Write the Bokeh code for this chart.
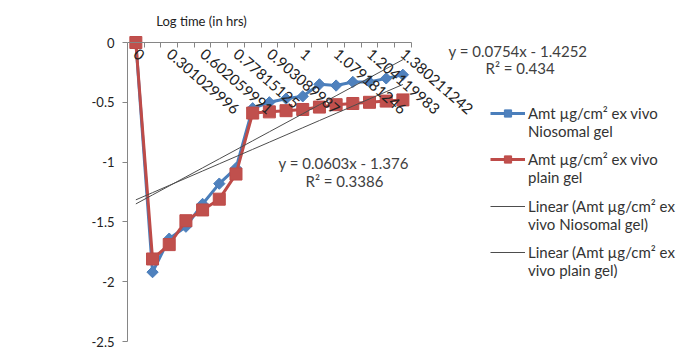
import math
from bokeh.plotting import figure
from bokeh.models import (Range1d, FixedTicker, NumeralTickFormatter, Legend, LegendItem, Label, ColumnDataSource)
from bokeh.embed import file_html
from bokeh.resources import INLINE

# ---------------- data ----------------
time_labels = ["0", "0.176091259", "0.301029996", "0.477121255", "0.602059991", "0.698970004",
               "0.77815125", "0.84509804", "0.903089987", "0.954242509", "1", "1.041392685",
               "1.079181246", "1.146128036", "1.204119983", "1.301029996", "1.380211242"]
niosomal = [0, -1.92, -1.64, -1.54, -1.35, -1.18, -1.05, -0.55, -0.50, -0.47, -0.45,
            -0.35, -0.36, -0.33, -0.33, -0.30, -0.27]
plain = [0, -1.81, -1.69, -1.49, -1.40, -1.31, -1.10, -0.59, -0.58, -0.57, -0.56,
         -0.54, -0.52, -0.51, -0.50, -0.49, -0.48]
trend_slope = [0.0754, 0.0603]
trend_intercept = [-1.4252, -1.376]
trend_eq = ["y = 0.0754x - 1.4252", "y = 0.0603x - 1.376"]
trend_r2 = ["R\u00b2 = 0.434", "R\u00b2 = 0.3386"]
series_names = [["Amt \u00b5g/cm\u00b2 ex vivo", "Niosomal gel"],
                ["Amt \u00b5g/cm\u00b2 ex vivo", "plain gel"],
                ["Linear (Amt \u00b5g/cm\u00b2 ex", "vivo Niosomal gel)"],
                ["Linear (Amt \u00b5g/cm\u00b2 ex", "vivo plain gel)"]]
y_ticks = [0, -0.5, -1, -1.5, -2, -2.5]

# ---------------- layout (window px) ----------------
W, H = 689, 349
FL, FT, FB = 127, 42, 341     # frame left, y=0 position, y=-2.5 position
PX = 16.69                    # px per category
PY = (FB - FT) / 2.5          # px per unit
FONT = "Lato"

def xd(wx):
    return -0.5 + (wx - FL) / PX

def yd(wy):
    return -2.5 + (FB - wy) / PY

n = len(time_labels)
idx = list(range(n))

p = figure(width=W, height=H, output_backend="svg", toolbar_location=None,
           x_range=Range1d(-0.5, -0.5 + (W - FL) / PX),
           y_range=Range1d(-2.5, -2.5 + FB / PY),
           min_border_left=FL, min_border_right=0, min_border_top=0, min_border_bottom=H - FB)
p.outline_line_color = None
p.grid.visible = False
p.background_fill_color = "white"

xa = p.xaxis[0]
xa.fixed_location = 0
xa.bounds = (-0.5, n - 0.5)
xa.ticker = FixedTicker(ticks=idx[::2], minor_ticks=[i - 0.5 for i in range(n + 1)])
xa.major_label_overrides = {i: time_labels[i] for i in idx[::2]}
xa.major_label_orientation = -0.72
xa.major_tick_out = 0
xa.major_tick_in = 0
xa.minor_tick_out = 5
xa.minor_tick_in = 0
xa.axis_line_color = "#868686"
xa.minor_tick_line_color = "#868686"
xa.major_label_text_font = FONT
xa.major_label_text_font_size = "15px"
xa.major_label_text_color = "#222222"
xa.major_label_standoff = 4

ya = p.yaxis[0]
ya.bounds = (-2.5, 0)
ya.ticker = FixedTicker(ticks=y_ticks)
ya.formatter = NumeralTickFormatter(format="0.[0]")
ya.major_tick_out = 5
ya.major_tick_in = 0
ya.minor_tick_out = 0
ya.axis_line_color = "#868686"
ya.major_tick_line_color = "#868686"
ya.major_label_text_font = FONT
ya.major_label_text_font_size = "13px"
ya.major_label_text_color = "#222222"
ya.major_label_standoff = 8

src = ColumnDataSource(dict(x=idx, nio=niosomal, pla=plain))
bl = p.line("x", "nio", source=src, line_color="#4A7EBB", line_width=3)
bm = p.scatter("x", "nio", source=src, marker="square", angle=math.pi / 4, size=8,
               fill_color="#4F81BD", line_color="#4A7EBB")
rl = p.line("x", "pla", source=src, line_color="#BE4B48", line_width=3)
rm = p.scatter("x", "pla", source=src, marker="square", size=12,
               fill_color="#C0504D", line_color="#BE4B48")

trend_r = []
for s, b in zip(trend_slope, trend_intercept):
    ty = [b + s * (i + 1) for i in idx]
    trend_r.append(p.line(idx, ty, line_color="#4D4D4D", line_width=1))

blank = p.line([], [], line_alpha=0)

groups = [[bl, bm], [rl, rm], [trend_r[0]], [trend_r[1]]]
rows = [(113, 131), (159, 177), (206, 224), (252, 270)]
for names, rends, (r1, r2) in zip(series_names, groups, rows):
    lg = Legend(items=[LegendItem(label=names[0], renderers=rends),
                       LegendItem(label=names[1], renderers=[blank])],
                location=(490 - FL, FB - (r2 + 9)), padding=0, spacing=0, margin=0,
                glyph_width=35, glyph_height=18, label_height=18, label_standoff=3,
                label_text_font=FONT, label_text_font_size="15px", label_text_color="#333333",
                border_line_color=None, background_fill_alpha=0)
    p.add_layout(lg)

def lab(text, wx, wy, size="15px", align="left", color="#404040"):
    p.add_layout(Label(x=xd(wx), y=yd(wy), text=text, text_font=FONT, text_font_size=size,
                       text_color=color, text_align=align, text_baseline="middle"))

lab(trend_eq[0], 448, 50)
lab(trend_r2[0], 485, 67)
lab(trend_eq[1], 278, 162)
lab(trend_r2[1], 305, 180)
lab("Log time (in hrs)", 201, 20, size="13px", align="center", color="#222222")
lab("Log Q", 10, 140, size="13px", color="#222222")
lab("t", 48, 144, size="9px", color="#222222")
lab("-", 56, 140, size="13px", color="#222222")
lab("Log Q", 10, 158, size="13px", color="#222222")
lab("o", 48, 162, size="9px", color="#222222")

open("out.html", "w").write(file_html(p, INLINE))
